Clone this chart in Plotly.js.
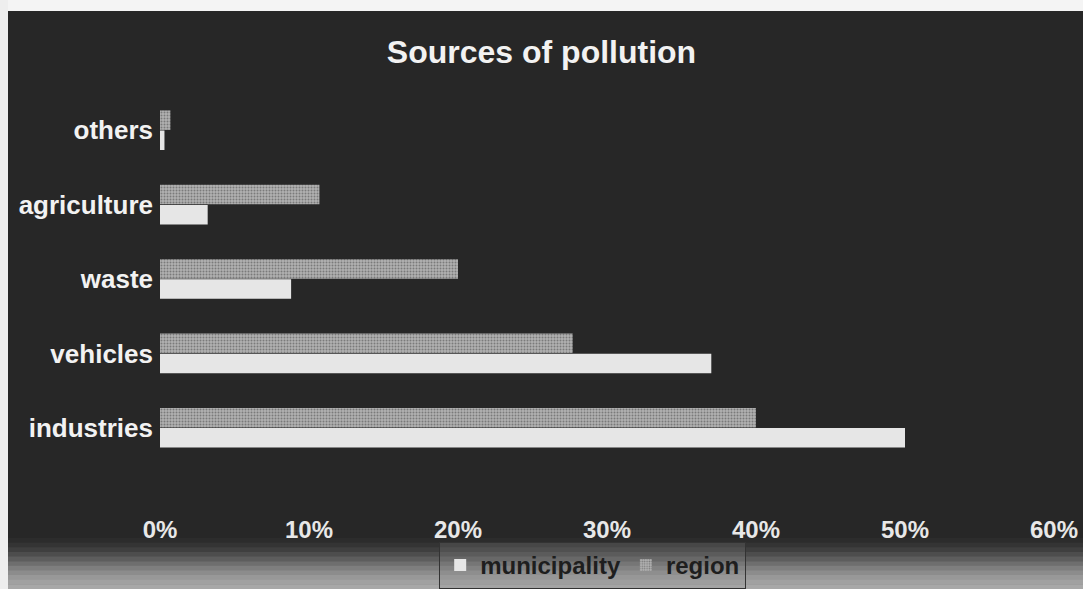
<!DOCTYPE html>
<html>
<head>
<meta charset="utf-8">
<script src="https://cdn.plot.ly/plotly-3.0.1.min.js"></script>
<style>html,body{margin:0;padding:0;background:#fff;}#chart{width:1083px;height:589px;}</style>
</head>
<body>
<div id="chart"></div>
<script>
const categories = ["industries", "vehicles", "waste", "agriculture", "others"];
const municipality = [50, 37, 8.8, 3.2, 0.3];
const region = [40, 27.7, 20, 10.7, 0.7];
const tickVals = [0, 10, 20, 30, 40, 50, 60];
const tickText = ["0%", "10%", "20%", "30%", "40%", "50%", "60%"];

const traces = [
  {
    type: "bar", orientation: "h", name: "municipality",
    y: categories, x: municipality,
    marker: {color: "#e6e6e6", line: {width: 0}}
  },
  {
    type: "bar", orientation: "h", name: "region",
    y: categories, x: region,
    marker: {color: "#a4a4a4", line: {width: 0},
      pattern: {shape: ".", size: 3, solidity: 0.35, fgcolor: "#7a7a7a", bgcolor: "#b2b2b2"}}
  }
];

// plot area in page pixels
const W = 1083, H = 589, L = 160, R = 29, T = 93, B = 124;
const pw = W - L - R, ph = H - T - B;
const px = x => (x - L) / pw;
const py = y => (H - B - y) / ph;

const shapes = [];
function rect(x0, y0, x1, y1, c) {
  shapes.push({type: "rect", xref: "paper", yref: "paper", layer: "below",
    x0: px(x0), x1: px(x1), y0: py(y1), y1: py(y0), fillcolor: c, line: {width: 0}});
}
rect(0, 0, W, H, "#272727");
const gradStops = ["#2c2c2c", "#343434", "#3f3f3f", "#4d4d4d", "#5d5d5d", "#6e6e6e", "#7e7e7e", "#8c8c8c", "#989898", "#a1a1a1", "#a8a8a8"];
const g0 = 538, g1 = 589;
for (let i = 0; i < gradStops.length; i++) {
  const ya = g0 + (g1 - g0) * i / gradStops.length;
  const yb = g0 + (g1 - g0) * (i + 1) / gradStops.length;
  rect(0, ya, W, yb + 0.5, gradStops[i]);
}
rect(0, 0, W, 11, "#f4f4f4");
rect(0, 0, 8, H, "#eeeeee");

const FONT = "Liberation Sans, Arial, sans-serif";
const layout = {
  width: W, height: H,
  margin: {l: L, r: R, t: T, b: B, autoexpand: false},
  paper_bgcolor: "#272727",
  plot_bgcolor: "rgba(0,0,0,0)",
  title: {text: "<b>Sources of pollution</b>", x: 0.5, xanchor: "center", y: 0.912, yanchor: "middle",
    font: {family: FONT, size: 32, color: "#f2f2f2"}},
  barmode: "group",
  bargap: 0.46,
  bargroupgap: 0.03,
  xaxis: {
    range: [0, 60], tickvals: tickVals, ticktext: tickText,
    showgrid: false, zeroline: false, showline: false, ticks: "",
    ticklabelstandoff: 48,
    tickfont: {family: FONT, size: 24, color: "#e8e8e8", weight: "bold"}
  },
  yaxis: {
    categoryorder: "array", categoryarray: categories,
    showgrid: false, zeroline: false, showline: false, ticks: "",
    ticklabelstandoff: 6,
    tickfont: {family: FONT, size: 26, color: "#f2f2f2", weight: "bold"}
  },
  showlegend: true,
  legend: {
    orientation: "h", x: 0.484, xanchor: "center", y: -0.02, yanchor: "bottom",
    xref: "paper", yref: "container",
    bgcolor: "rgba(150,150,150,0.2)", bordercolor: "#333", borderwidth: 1,
    font: {family: FONT, size: 24, color: "#1e1e1e", weight: "bold"},
    traceorder: "normal", itemwidth: 30
  },
  shapes: shapes
};

Plotly.newPlot("chart", traces, layout, {displayModeBar: false, staticPlot: true});
</script>
</body>
</html>
